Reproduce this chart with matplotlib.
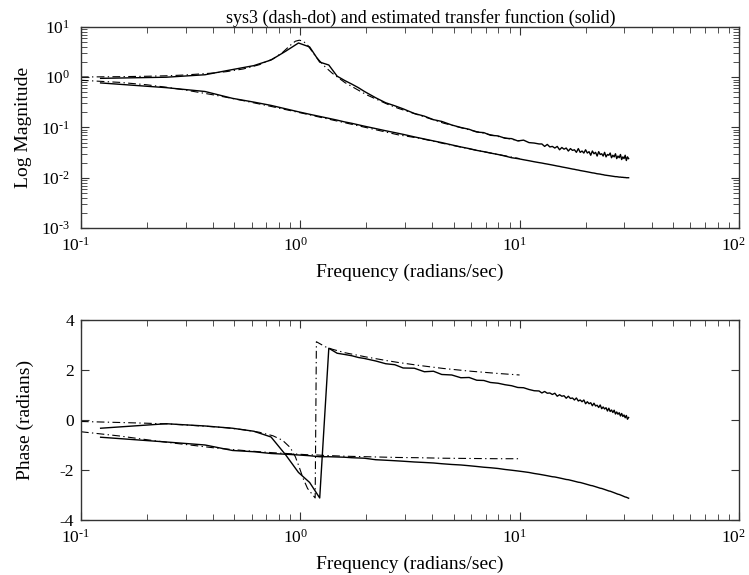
import matplotlib
matplotlib.use("Agg")
import matplotlib.pyplot as plt
import matplotlib.transforms as mtransforms
from matplotlib.ticker import FuncFormatter
import numpy as np

plt.rcParams["font.family"] = ["Liberation Serif", "DejaVu Serif"]
plt.rcParams["mathtext.fontset"] = "custom"
plt.rcParams["mathtext.rm"] = "Liberation Serif"
plt.rcParams["mathtext.it"] = "Liberation Serif:italic"
plt.rcParams["axes.unicode_minus"] = False

# true system (dash-dot)
dd_freq = [0.1, 0.15, 0.2, 0.25, 0.3, 0.4, 0.46, 0.55, 0.65, 0.75, 0.83, 0.9,
           0.95, 0.99, 1.03, 1.08, 1.17, 1.185, 1.3, 1.4, 1.6, 2.0, 2.5, 2.8,
           3.5, 4.5, 6.0, 8.0, 10.0]
dd_mag1 = [1.01, 1.025, 1.045, 1.07, 1.11, 1.21, 1.29, 1.46, 1.77, 2.31, 3.10,
           4.30, 5.20, 5.45, 5.25, 4.37, 2.67, 2.49, 1.60, 1.20, 0.78, 0.45,
           0.29, 0.24, 0.175, 0.122, 0.088, 0.066, 0.054]
dd_mag2 = [0.87, 0.79, 0.707, 0.625, 0.555, 0.447, 0.399, 0.342, 0.294, 0.258,
           0.234, 0.217, 0.206, 0.198, 0.191, 0.182, 0.169, 0.166, 0.152, 0.141,
           0.124, 0.0995, 0.0797, 0.0713, 0.061, 0.048, 0.037, 0.029, 0.024]
dd_phase1 = [-0.06, -0.10, -0.13, -0.16, -0.20, -0.27, -0.31, -0.39, -0.49,
             -0.63, -0.81, -1.10, -1.47, -1.89, -2.33, -2.74, -3.12, 3.13, 2.93,
             2.83, 2.69, 2.52, 2.37, 2.30, 2.18, 2.06, 1.95, 1.86, 1.80]
dd_phase2 = [-0.47, -0.64, -0.79, -0.90, -0.98, -1.11, -1.16, -1.22, -1.27,
             -1.31, -1.33, -1.35, -1.36, -1.37, -1.38, -1.39, -1.40, -1.40,
             -1.42, -1.43, -1.45, -1.47, -1.49, -1.50, -1.51, -1.53, -1.54,
             -1.55, -1.55]

# estimated transfer function (solid)
est_freq = [0.123, 0.245, 0.368, 0.491, 0.614, 0.736, 0.859, 0.982, 1.104,
            1.227, 1.350, 1.473, 1.595, 1.718, 1.841, 1.963, 2.209, 2.454,
            2.700, 2.945, 3.313, 3.682, 4.050, 4.418, 4.909, 5.400, 5.890,
            6.381, 6.872, 7.363, 7.977, 8.590, 9.204, 9.818, 10.43, 11.04,
            11.66, 12.27,
            12.64, 13.01, 13.38, 13.74, 14.11, 14.48, 14.85, 15.22, 15.59,
            15.95, 16.32, 16.69, 17.06, 17.43, 17.79, 18.16, 18.53, 18.90,
            19.27, 19.64, 20.00, 20.37, 20.74, 21.11, 21.48, 21.84, 22.21,
            22.58, 22.95, 23.32, 23.69, 24.05, 24.42, 24.79, 25.16, 25.53,
            25.89, 26.26, 26.63, 27.00, 27.37, 27.73, 28.10, 28.47, 28.84,
            29.21, 29.58, 29.94, 30.31, 30.68, 31.05, 31.42]
est_mag1 = [0.95, 1.00, 1.12, 1.42, 1.70, 2.20, 3.30, 4.80, 4.00, 2.00, 1.75,
            1.05, 0.86, 0.73, 0.62, 0.52, 0.39, 0.31, 0.27, 0.235, 0.19, 0.168,
            0.143, 0.132, 0.112, 0.100, 0.092, 0.081, 0.079, 0.070, 0.068,
            0.061, 0.060, 0.054, 0.056, 0.050, 0.049, 0.047,
            0.047, 0.042, 0.046, 0.041, 0.042, 0.039, 0.042, 0.036, 0.040,
            0.037, 0.039, 0.034, 0.038, 0.035, 0.036, 0.032, 0.038, 0.032,
            0.034, 0.031, 0.036, 0.031, 0.033, 0.028, 0.034, 0.030, 0.032,
            0.027, 0.033, 0.029, 0.030, 0.027, 0.032, 0.026, 0.029, 0.028,
            0.031, 0.025, 0.028, 0.026, 0.030, 0.024, 0.027, 0.025, 0.029,
            0.023, 0.026, 0.024, 0.028, 0.022, 0.026, 0.024]
est_mag2 = [0.77, 0.62, 0.52, 0.38, 0.32, 0.275, 0.235, 0.205, 0.183, 0.166,
            0.152, 0.140, 0.129, 0.121, 0.113, 0.106, 0.095, 0.086, 0.079,
            0.073, 0.065, 0.059, 0.054, 0.050, 0.045, 0.041, 0.038, 0.035,
            0.033, 0.031, 0.029, 0.027, 0.025, 0.024, 0.0228, 0.0218, 0.0208,
            0.0200,
            0.0196, 0.0191, 0.0187, 0.0183, 0.0179, 0.0175, 0.0171, 0.0168,
            0.0164, 0.0161, 0.0158, 0.0155, 0.0152, 0.0149, 0.0147, 0.0144,
            0.0142, 0.0139, 0.0137, 0.0135, 0.0133, 0.0131, 0.0129, 0.0127,
            0.0125, 0.0124, 0.0122, 0.0120, 0.0119, 0.0118, 0.0116, 0.0115,
            0.0113, 0.0112, 0.0111, 0.0110, 0.0109, 0.0108, 0.0107, 0.0106,
            0.0105, 0.0105, 0.0104, 0.0103, 0.0103, 0.0102, 0.0102, 0.0101,
            0.0101, 0.0100, 0.0100, 0.0100]
est_phase1 = [-0.33, -0.15, -0.24, -0.33, -0.45, -0.68, -1.40, -2.10, -2.50,
              -3.12, 2.87, 2.67, 2.62, 2.57, 2.50, 2.46, 2.36, 2.25, 2.21, 2.08,
              2.07, 1.93, 1.95, 1.82, 1.80, 1.69, 1.70, 1.59, 1.58, 1.50, 1.47,
              1.41, 1.37, 1.30, 1.29, 1.22, 1.17, 1.16,
              1.08, 1.14, 1.07, 1.08, 1.02, 1.07, 0.95, 1.01, 0.95, 0.97, 0.87,
              0.95, 0.86, 0.88, 0.80, 0.88, 0.76, 0.80, 0.73, 0.80, 0.65, 0.73,
              0.65, 0.69, 0.57, 0.67, 0.56, 0.59, 0.50, 0.60, 0.45, 0.52, 0.44,
              0.49, 0.36, 0.47, 0.34, 0.40, 0.30, 0.39, 0.24, 0.32, 0.23, 0.29,
              0.16, 0.26, 0.14, 0.20, 0.09, 0.18, 0.03, 0.10]
est_phase2 = [-0.69, -0.88, -1.00, -1.22, -1.27, -1.34, -1.37, -1.40, -1.43,
              -1.47, -1.47, -1.48, -1.49, -1.51, -1.52, -1.53, -1.59, -1.61,
              -1.63, -1.65, -1.68, -1.70, -1.72, -1.75, -1.78, -1.80, -1.83,
              -1.86, -1.89, -1.91, -1.94, -1.98, -2.01, -2.04, -2.07, -2.10,
              -2.14, -2.17,
              -2.19, -2.21, -2.23, -2.25, -2.27, -2.28, -2.30, -2.32, -2.34,
              -2.36, -2.38, -2.39, -2.41, -2.43, -2.45, -2.47, -2.49, -2.50,
              -2.52, -2.54, -2.56, -2.58, -2.60, -2.62, -2.63, -2.65, -2.67,
              -2.69, -2.71, -2.73, -2.74, -2.76, -2.78, -2.80, -2.82, -2.84,
              -2.85, -2.87, -2.89, -2.91, -2.93, -2.95, -2.97, -2.98, -3.00,
              -3.02, -3.04, -3.06, -3.08, -3.09, -3.11, -3.13]

DASHDOT = (0, (7, 3, 1.2, 3))


def decade_label(v, pos):
    e = int(round(np.log10(v)))
    exp = str(abs(e)) if e >= 0 else "\u2010" + str(abs(e))
    return r"$\mathregular{10^{%s}}$" % exp


def style_axes(ax, ypad):
    ax.tick_params(which="both", direction="in", top=True, right=True,
                   colors="#333333")
    ax.tick_params(which="major", length=6, labelsize=12.5, labelcolor="black")
    ax.tick_params(which="minor", length=4.5)
    ax.tick_params(axis="x", pad=6)
    ax.tick_params(axis="y", pad=ypad)
    ax.xaxis.set_major_formatter(FuncFormatter(decade_label))
    for s in ax.spines.values():
        s.set_color("#333333")
        s.set_linewidth(1.0)


fig = plt.figure(figsize=(7.49, 5.75), dpi=100)

ax1 = fig.add_axes([0.108, 0.6035, 0.8785, 0.3496])
ax1.loglog(dd_freq, dd_mag1, color="black", lw=0.8, ls=DASHDOT)
ax1.loglog(dd_freq, dd_mag2, color="black", lw=0.8, ls=DASHDOT)
ax1.loglog(est_freq, est_mag1, color="black", lw=1.0)
ax1.loglog(est_freq, est_mag2, color="black", lw=1.0)
ax1.set_xlim(0.1, 100)
ax1.set_ylim(1e-3, 1e1)
ax1.set_title("sys3 (dash-dot) and estimated transfer function (solid)",
              fontsize=13, pad=1, x=0.517)
ax1.set_xlabel("Frequency (radians/sec)", fontsize=14, labelpad=7)
ax1.set_ylabel("Log Magnitude", fontsize=14)
style_axes(ax1, 8)
ax1.yaxis.set_major_formatter(FuncFormatter(decade_label))
ax1.yaxis.set_label_coords(-0.0745, 0.5)

ax2 = fig.add_axes([0.108, 0.0957, 0.8785, 0.3478])
ax2.semilogx(dd_freq, dd_phase1, color="black", lw=0.8, ls=DASHDOT)
ax2.semilogx(dd_freq, dd_phase2, color="black", lw=0.8, ls=DASHDOT)
ax2.semilogx(est_freq, est_phase1, color="black", lw=1.0)
ax2.semilogx(est_freq, est_phase2, color="black", lw=1.0)
ax2.set_xlim(0.1, 100)
ax2.set_ylim(-4, 4)
ax2.set_yticks([-4, -2, 0, 2, 4])
ax2.set_xlabel("Frequency (radians/sec)", fontsize=14, labelpad=7)
ax2.set_ylabel("Phase (radians)", fontsize=14)
style_axes(ax2, 5)
ax2.yaxis.set_label_coords(-0.0715, 0.5)

# x tick labels sit a little left of their ticks in the reference
fig.canvas.draw()
shift = mtransforms.ScaledTranslation(-5 / 100, 0, fig.dpi_scale_trans)
for ax in (ax1, ax2):
    for lab in ax.get_xticklabels():
        lab.set_transform(lab.get_transform() + shift)

fig.savefig("out.png", dpi=100)
plt.close(fig)
